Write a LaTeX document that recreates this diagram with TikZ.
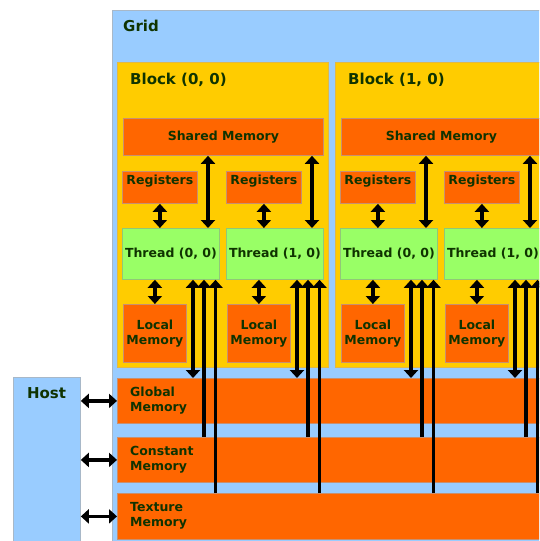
\documentclass[tikz,border=0pt]{standalone}
\usepackage{fontspec}
\setmainfont{DejaVu Sans}
\usetikzlibrary{arrows.meta,calc}

\definecolor{gridblue}{HTML}{99CCFF}
\definecolor{gridedge}{HTML}{A8B8C8}
\definecolor{blockyel}{HTML}{FFCC00}
\definecolor{blockedge}{HTML}{E0B848}
\definecolor{memorg}{HTML}{FF6600}
\definecolor{memedge}{HTML}{C89070}
\definecolor{thrgreen}{HTML}{99FF66}
\definecolor{thredge}{HTML}{90C878}
\definecolor{ink}{HTML}{0F3300}

\tikzset{
  bigtxt/.style={font=\fontsize{15}{18}\selectfont\bfseries, text=ink, inner sep=0pt},
  smalltxt/.style={font=\fontsize{12.5}{15.5}\selectfont\bfseries, text=ink, inner sep=0pt},
  boxbase/.style={line width=0.8pt, anchor=north west, inner sep=0pt},
  gridbox/.style={boxbase, draw=gridedge, fill=gridblue},
  blockbox/.style={boxbase, draw=blockedge, fill=blockyel},
  membox/.style={boxbase, draw=memedge, fill=memorg},
  thrbox/.style={boxbase, draw=thredge, fill=thrgreen},
  tip/.tip={Triangle[width=14pt,length=8pt]},
  twoway/.style={line width=3.2pt, tip-tip},
  oneway/.style={line width=3.2pt, -tip},
}

\begin{document}
\begin{tikzpicture}[x=1pt,y=-1pt]
  \clip (0,0) rectangle (539,541);

  % device grid
  \node[gridbox, minimum width=500, minimum height=600] (grid) at (112,10) {};
  \node[bigtxt, anchor=west] (gridlbl) at (123,26) {Grid};

  % thread blocks
  \foreach \b/\dx in {0/0,1/218} {
    \node[blockbox, minimum width=211, minimum height=305] (blk\b) at (117+\dx,62) {};
    \node[bigtxt, anchor=west] (blklbl\b) at (130+\dx,79.5) {Block (\b, 0)};
    \node[membox, minimum width=200, minimum height=37, smalltxt] (sh\b) at (123+\dx,118) {Shared Memory};
    \foreach \t/\tx in {0/0,1/104} {
      \node[membox, minimum width=75, minimum height=32] (r\b\t) at (122+\dx+\tx,171) {};
      \node[smalltxt] (rl\b\t) at ($(r\b\t.north)+(0,10.5)$) {Registers};
      \node[thrbox, minimum width=97, minimum height=51, smalltxt] (t\b\t) at (122+\dx+\tx,228) {Thread (\t, 0)};
      \node[membox, minimum width=63, minimum height=58, smalltxt, align=center] (l\b\t) at (123+\dx+\tx,304) {Local\\Memory};
    }
  }

  % device memories
  \node[membox, minimum width=500, minimum height=45] (gm) at (117,378) {};
  \node[membox, minimum width=500, minimum height=45] (cm) at (117,437) {};
  \node[membox, minimum width=500, minimum height=46] (tm) at (117,493) {};
  \node[smalltxt, anchor=west, align=left] (gml) at (130,400.5) {Global\\Memory};
  \node[smalltxt, anchor=west, align=left] (cml) at (130,459.5) {Constant\\Memory};
  \node[smalltxt, anchor=west, align=left] (tml) at (130,516) {Texture\\Memory};

  % host
  \node[gridbox, minimum width=67, minimum height=200] (host) at (13,377) {};
  \node[bigtxt] (hostlbl) at (46.5,393) {Host};

  % host <-> device memory transfers
  \draw[twoway] (host.east |- gm.west) -- (gm.west);
  \draw[twoway] (host.east |- cm.west) -- (cm.west);
  \draw[twoway] (host.east |- tm.west) -- (tm.west);

  % per-thread accesses
  \foreach \b in {0,1} {
    \foreach \t in {0,1} {
      \draw[twoway] (r\b\t.south) -- (r\b\t.south |- t\b\t.north);
      \draw[twoway] (l\b\t.north |- t\b\t.south) -- (l\b\t.north);
      \draw[twoway] ([xshift=86pt]t\b\t.north west) -- ([xshift=86pt]t\b\t.north west |- sh\b.south);
      \draw[twoway] ([xshift=71pt]t\b\t.south west) -- ([xshift=71pt]t\b\t.south west |- gm.north);
      \draw[oneway] ([xshift=82pt]t\b\t.south west |- cm.north) -- ([xshift=82pt]t\b\t.south west);
      \draw[oneway] ([xshift=93.5pt]t\b\t.south west |- tm.north) -- ([xshift=93.5pt]t\b\t.south west);
    }
  }
\end{tikzpicture}
\end{document}
